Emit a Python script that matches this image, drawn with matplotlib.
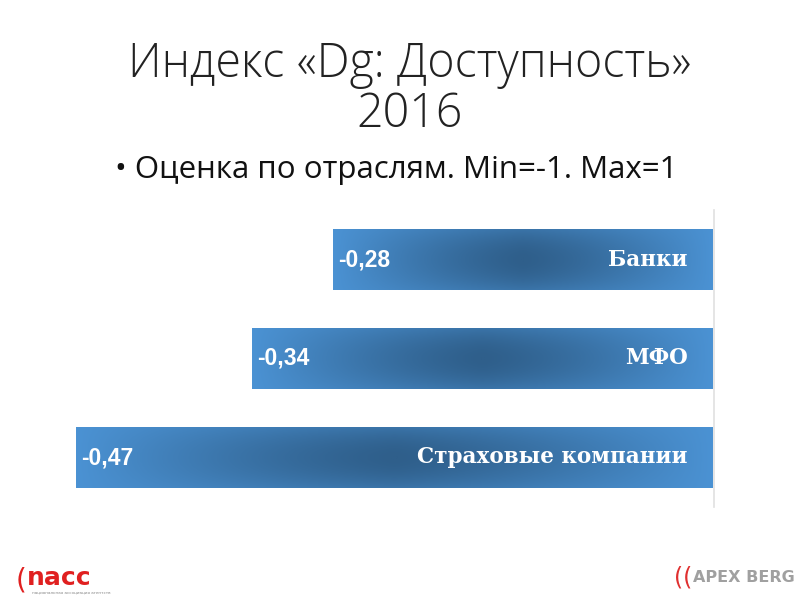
import numpy as np
import matplotlib
matplotlib.use("Agg")
import matplotlib.pyplot as plt
from matplotlib.colors import LinearSegmentedColormap

categories = ["Банки", "МФО", "Страховые компании"]
values = [-0.28, -0.34, -0.47]
value_labels = ["-0,28", "-0,34", "-0,47"]

fig = plt.figure(figsize=(8.07, 6.0), dpi=100)
W, H = 807, 600
ax = fig.add_axes([35 / W, 1 - 507 / H, (712 - 35) / W, 297 / H])
ax.set_xlim(-0.5, 0)
ax.set_ylim(2.5, -0.5)
ax.axis("off")

cmap = LinearSegmentedColormap.from_list("g", ["#4b92d3", "#2f5f8b"])
bar_h = 0.61
bars = ax.barh(range(len(categories)), values, height=bar_h, color="none")
nx, ny = 300, 60
xs = np.linspace(-1, 1, nx)
ys = np.linspace(-1, 1, ny)
X, Y = np.meshgrid(xs, ys)
grad = (1 - np.abs(X) ** 1.3) * (1 - 0.4 * Y ** 2)
for i, (b, v) in enumerate(zip(bars, values)):
    ax.imshow(grad, cmap=cmap, aspect="auto", extent=(v, 0, i + bar_h / 2, i - bar_h / 2),
              vmin=0, vmax=1, zorder=2, interpolation="bilinear")
    ax.text(v + 0.004, i, value_labels[i], color="white", fontsize=16.5, fontweight="bold",
            family="Liberation Sans", va="center", ha="left", zorder=3)
    ax.text(-0.018, i, categories[i], color="white", fontsize=15.5, fontweight="bold",
            family="DejaVu Serif", va="center", ha="right", zorder=3)
ax.set_xlim(-0.5, 0)
ax.set_ylim(2.5, -0.5)
ax.plot([0.0015, 0.0015], [-0.5, 2.5], color="#e0e0e0", lw=1.2, clip_on=False, zorder=1)

fig.text(410 / W, 1 - 65 / H, "Индекс «Dg: Доступность»", ha="center", va="center",
         fontsize=33.5, family="Open Sans", color="#222222", fontweight="light")
fig.text(410 / W, 1 - 115 / H, "2016", ha="center", va="center",
         fontsize=33.5, family="Open Sans", color="#222222", fontweight="light")
fig.text(115 / W, 1 - 170 / H, "• Оценка по отраслям. Min=-1. Max=1", ha="left", va="center",
         fontsize=22.5, family="Open Sans", color="#111111")

# logos
fig.text(16 / W, 1 - 580 / H, "(", ha="left", va="center", fontsize=20, color="#e02020",
         family="DejaVu Sans")
fig.text(27 / W, 1 - 578 / H, "nacc", ha="left", va="center", fontsize=18, color="#e02020",
         fontweight="bold", family="DejaVu Sans")
fig.text(32 / W, 1 - 592 / H, "национальная ассоциация агентств", ha="left", va="center",
         fontsize=3, color="#888888", family="DejaVu Sans")
fig.text(674 / W, 1 - 578 / H, "((", ha="left", va="center", fontsize=17, color="#e03030",
         family="DejaVu Sans")
fig.text(693 / W, 1 - 578 / H, "APEX BERG", ha="left", va="center", fontsize=11.5, color="#a0a0a0",
         fontweight="bold", family="DejaVu Sans")

fig.savefig("out.png", dpi=100)
